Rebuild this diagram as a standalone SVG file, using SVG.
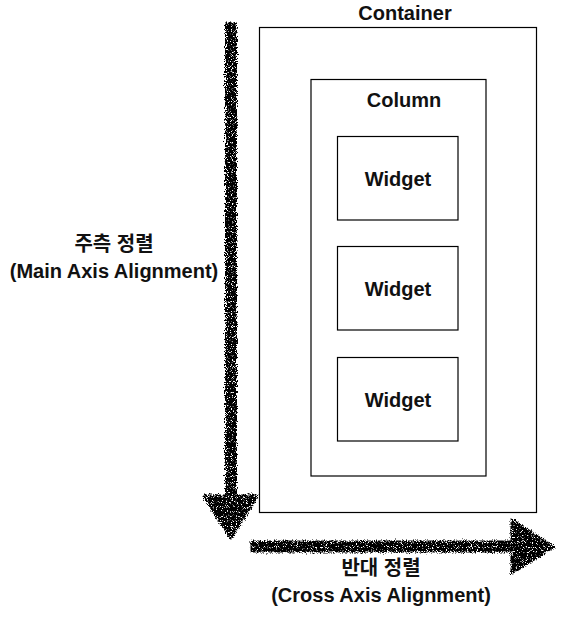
<svg xmlns="http://www.w3.org/2000/svg" width="561" height="618" viewBox="0 0 561 618">
<defs>
<filter id="rough" x="-20%" y="-20%" width="140%" height="140%">
<feTurbulence type="fractalNoise" baseFrequency="0.9" numOctaves="2" seed="3" result="n"/>
<feDisplacementMap in="SourceGraphic" in2="n" scale="6" xChannelSelector="R" yChannelSelector="G" result="d"/>
<feTurbulence type="fractalNoise" baseFrequency="1.2" numOctaves="1" seed="7" result="n2"/>
<feColorMatrix in="n2" type="matrix" values="0 0 0 0 0  0 0 0 0 0  0 0 0 0 0  0 0 0 -9 6.2" result="speck"/>
<feComposite in="d" in2="speck" operator="in"/>
</filter>
<style>
.box{fill:none;stroke:#000;stroke-width:1.2}
.lbl{font-family:"Liberation Sans",Arial,sans-serif;font-weight:bold;font-size:20px;fill:#111;text-anchor:middle}
.axis{font-family:"Liberation Sans","Noto Sans CJK KR",sans-serif;font-weight:bold;font-size:20px;fill:#111;text-anchor:middle}
.ink{fill:#000;stroke:#000}
</style>
</defs>
<g id="container">
<rect class="box" x="259.5" y="27.5" width="277" height="485"/>
<text class="lbl" x="405" y="20">Container</text>
</g>
<g id="column">
<rect class="box" x="311" y="79.5" width="175" height="396.5"/>
<text class="lbl" x="404" y="107">Column</text>
</g>
<g id="widget1">
<rect class="box" x="337.5" y="136.5" width="120.5" height="83.5"/>
<text class="lbl" x="398" y="186">Widget</text>
</g>
<g id="widget2">
<rect class="box" x="337.5" y="246.5" width="120.5" height="83.5"/>
<text class="lbl" x="398" y="296">Widget</text>
</g>
<g id="widget3">
<rect class="box" x="337.5" y="357.5" width="120.5" height="83.5"/>
<text class="lbl" x="398" y="407">Widget</text>
</g>
<g id="connectors" filter="url(#rough)">
<rect class="ink" x="225.5" y="23" width="11" height="475" stroke-width="1"/>
<polygon class="ink" points="204,496 257,496 231,538" stroke-width="3" stroke-linejoin="round"/>
<rect class="ink" x="251" y="541" width="264" height="11" stroke-width="1"/>
<polygon class="ink" points="512,520 512,573 553,547" stroke-width="3" stroke-linejoin="round"/>
</g>
<g id="labels">
<text class="axis" x="114" y="251">주측 정렬</text>
<text class="axis" x="114" y="278">(Main Axis Alignment)</text>
<text class="axis" x="381" y="575">반대 정렬</text>
<text class="axis" x="381" y="602">(Cross Axis Alignment)</text>
</g>
</svg>
